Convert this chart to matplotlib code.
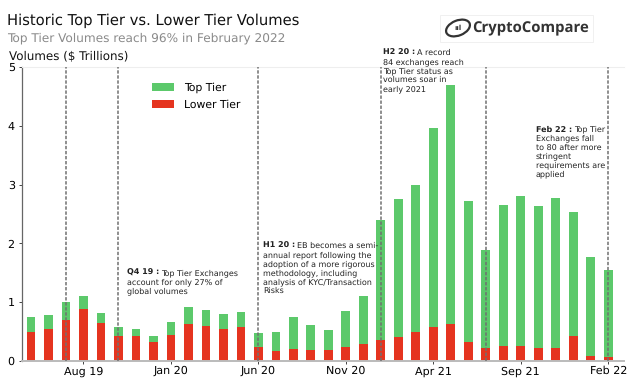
import matplotlib

matplotlib.use("Agg")
import matplotlib.pyplot as plt
from matplotlib.patches import Ellipse, Rectangle

plt.rcParams["text.hinting"] = "no_hinting"

GREEN = "#5cc96b"
RED = "#e5341f"

# total height of each stacked bar, May 19 -> Feb 22 ($ trillions)
months = ["May 19", "Jun 19", "Jul 19", "Aug 19", "Sep 19", "Oct 19", "Nov 19", "Dec 19",
          "Jan 20", "Feb 20", "Mar 20", "Apr 20", "May 20", "Jun 20", "Jul 20", "Aug 20",
          "Sep 20", "Oct 20", "Nov 20", "Dec 20", "Jan 21", "Feb 21", "Mar 21", "Apr 21",
          "May 21", "Jun 21", "Jul 21", "Aug 21", "Sep 21", "Oct 21", "Nov 21", "Dec 21",
          "Jan 22", "Feb 22"]
total = [0.745, 0.78, 1.00, 1.10, 0.82, 0.575, 0.545, 0.425, 0.655, 0.91, 0.875, 0.795,
         0.84, 0.48, 0.49, 0.74, 0.62, 0.52, 0.85, 1.10, 2.39, 2.755, 2.99, 3.96,
         4.70, 2.72, 1.89, 2.65, 2.81, 2.635, 2.77, 2.535, 1.765, 1.54]
lower = [0.49, 0.54, 0.705, 0.89, 0.65, 0.42, 0.42, 0.32, 0.445, 0.625, 0.59, 0.55,
         0.57, 0.245, 0.165, 0.21, 0.19, 0.18, 0.235, 0.285, 0.365, 0.40, 0.49, 0.575,
         0.625, 0.32, 0.215, 0.255, 0.255, 0.225, 0.215, 0.43, 0.085, 0.06]
top = [t - l for t, l in zip(total, lower)]
tick_months = ["Aug 19", "Jan 20", "Jun 20", "Nov 20", "Apr 21", "Sep 21", "Feb 22"]
event_months = ["Jul 19", "Oct 19", "Jun 20", "Jan 21", "Jul 21", "Feb 22"]

fig = plt.figure(figsize=(6.34, 3.85), dpi=100)
W, H = 634, 385
ax = fig.add_axes([21.7 / W, 1 - 361 / H, (624 - 21.7) / W, (361 - 67) / H])
xs = list(range(len(months)))

ax.bar(xs, lower, width=0.5, color=RED, label="Lower Tier")
ax.bar(xs, top, width=0.5, bottom=lower, color=GREEN, label="Top Tier")
for m in event_months:
    ax.axvline(months.index(m), color="#707070", lw=1.1, ls=(0, (2.2, 1.1)), zorder=5)

ax.set_xlim(-0.53, 33.9)
ax.set_ylim(0, 5)
ax.set_xticks([months.index(m) for m in tick_months], tick_months)
ax.set_yticks(range(6))
ax.tick_params(axis="both", labelsize=8, length=2.5, width=0.7, pad=2.5, color="#444444")
ax.tick_params(axis="x", pad=1)
ax.spines["right"].set_visible(False)
ax.spines["top"].set_color("#eeeeee")
ax.spines["top"].set_linewidth(0.8)
ax.spines["left"].set_color("#666666")
ax.spines["left"].set_linewidth(0.9)
ax.spines["bottom"].set_color("#bbbbbb")
ax.spines["bottom"].set_linewidth(1.4)

handles, labels = ax.get_legend_handles_labels()
fig.legend(handles[::-1], labels[::-1], loc="upper left", bbox_to_anchor=(152 / W, 1 - 82 / H),
           frameon=False, fontsize=7.8, handlelength=2.0, handleheight=0.75,
           labelspacing=0.62, handletextpad=0.95, borderpad=0, borderaxespad=0)

# headers
fig.text(7 / W, 1 - 25 / H, "Historic Top Tier vs. Lower Tier Volumes", fontsize=10.6,
         color="#111111", va="baseline")
fig.text(7 / W, 1 - 41 / H, "Top Tier Volumes reach 96% in February 2022", fontsize=8.75,
         color="#8a8a8a", va="baseline")
fig.text(9 / W, 1 - 59.5 / H, "Volumes ($ Trillions)", fontsize=8.6, color="#111111", va="baseline")

# annotations: x and first-line baseline y in figure pixels, bold lead then normal lines
notes = [
    (127, 275, "Q4 19 :", ["Top Tier Exchanges", "account for only 27% of", "global volumes"]),
    (263, 248, "H1 20 :", ["EB becomes a semi-", "annual report following the",
                           "adoption of a more rigorous", "methodology, including",
                           "analysis of KYC/Transaction", "Risks"]),
    (383, 55, "H2 20 :", ["A record", "84 exchanges reach", "Top Tier status as",
                          "volumes soar in", "early 2021"]),
    (536, 131.5, "Feb 22 :", ["Top Tier", "Exchanges fall", "to 80 after more", "stringent",
                              "requirements are", "applied"]),
]
renderer = fig.canvas.get_renderer()
for px, py, lead, lines in notes:
    b = fig.text(px / W, 1 - py / H, lead, fontsize=5.8, fontweight="bold", color="#222222",
                 va="baseline", ha="left", zorder=6)
    end = b.get_window_extent(renderer).x1
    fig.text((end + 1.5) / W, 1 - py / H, lines[0], fontsize=5.8, color="#222222",
             va="baseline", ha="left", zorder=6)
    for i, line in enumerate(lines[1:], start=1):
        fig.text(px / W, 1 - (py + 9 * i) / H, line, fontsize=5.8, color="#222222",
                 va="baseline", ha="left", zorder=6)

# logo
logo = fig.add_axes([0, 0, 1, 1], facecolor="none")
logo.set_xlim(0, W)
logo.set_ylim(H, 0)
logo.axis("off")
logo.add_patch(Rectangle((439.5, 14.5), 153, 27, fc="white", ec="#f0f0f0", lw=0.7))
logo.add_patch(Ellipse((458, 28), 25, 15, angle=-22, fc="none", ec="#333333", lw=1.6))
logo.text(458, 28.5, "ııl", fontsize=5, fontweight="bold", color="#333333", ha="center", va="center")
logo.text(472.5, 28, "CryptoCompare", fontsize=10.7, fontweight="bold", color="#333333",
          family="Open Sans", ha="left", va="center")

fig.savefig("out.png", dpi=100)
